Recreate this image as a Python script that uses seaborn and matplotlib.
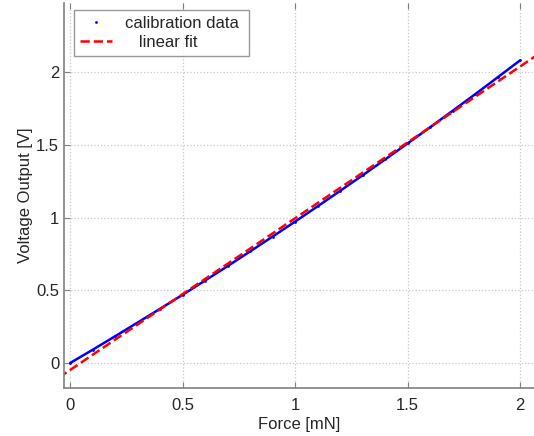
import numpy as np
import matplotlib
matplotlib.use('Agg')
import matplotlib.pyplot as plt
import seaborn as sns
import pandas as pd

sns.set_style('white')
plt.rcParams['font.family'] = ['Liberation Sans', 'DejaVu Sans']

# calibration data
force = [0.0, 0.1, 0.2, 0.3, 0.4, 0.5, 0.6, 0.7, 0.8, 0.9, 1.0,
         1.1, 1.2, 1.3, 1.4, 1.5, 1.6, 1.7, 1.8, 1.9, 2.0]
voltage = [0.000, 0.091, 0.184, 0.278, 0.373, 0.469, 0.567, 0.666, 0.767, 0.869, 0.972,
           1.077, 1.183, 1.290, 1.399, 1.509, 1.620, 1.733, 1.847, 1.963, 2.080]

# linear fit end points
fit_force = [-0.05, 2.1]
fit_voltage = [-0.100, 2.142]

df = pd.DataFrame({'Force': force, 'Voltage': voltage})
fit_df = pd.DataFrame({'Force': fit_force, 'Voltage': fit_voltage})

fig = plt.figure(figsize=(5.34, 4.36), dpi=100)
ax = fig.add_axes([0.12, 0.11, 0.88, 0.883])

sns.lineplot(data=df, x='Force', y='Voltage', ax=ax, color='blue', lw=1.8,
             marker='.', markersize=4, markeredgewidth=0, label='calibration data ')
sns.lineplot(data=fit_df, x='Force', y='Voltage', ax=ax, color='red', lw=1.8,
             linestyle='--', dashes=(3, 1.6), label='   linear fit')

ax.set_xlim(-0.027, 2.062)
ax.set_ylim(-0.172, 2.474)
ax.set_xticks([0, 0.5, 1, 1.5, 2])
ax.set_xticklabels(['0', '0.5', '1', '1.5', '2'])
ax.set_yticks([0, 0.5, 1, 1.5, 2])
ax.set_yticklabels(['0', '0.5', '1', '1.5', '2'])
ax.grid(True, linestyle=':', color='#c8c8c8', lw=0.9)
ax.tick_params(direction='in', length=4, color='#808080', labelsize=12,
               top=True, bottom=True, left=True)
ax.tick_params(axis='x', pad=7)
for side in ['top', 'right']:
    ax.spines[side].set_visible(False)
for side in ['left', 'bottom']:
    ax.spines[side].set_color('#808080')
    ax.spines[side].set_linewidth(1.2)

ax.set_xlabel('Force [mN]', fontsize=12, labelpad=3)
ax.set_ylabel('Voltage Output [V]', fontsize=12, labelpad=2)

leg = ax.legend(loc='upper left', bbox_to_anchor=(0.0213, 0.982), borderaxespad=0,
                fontsize=12, frameon=True, fancybox=False, edgecolor='#808080',
                handlelength=1.9, handletextpad=0.8, labelspacing=0.25, borderpad=0.35)
leg.get_frame().set_linewidth(1.0)
leg.get_lines()[0].set_linestyle('None')

plt.savefig('out.png', dpi=100)
plt.close()
